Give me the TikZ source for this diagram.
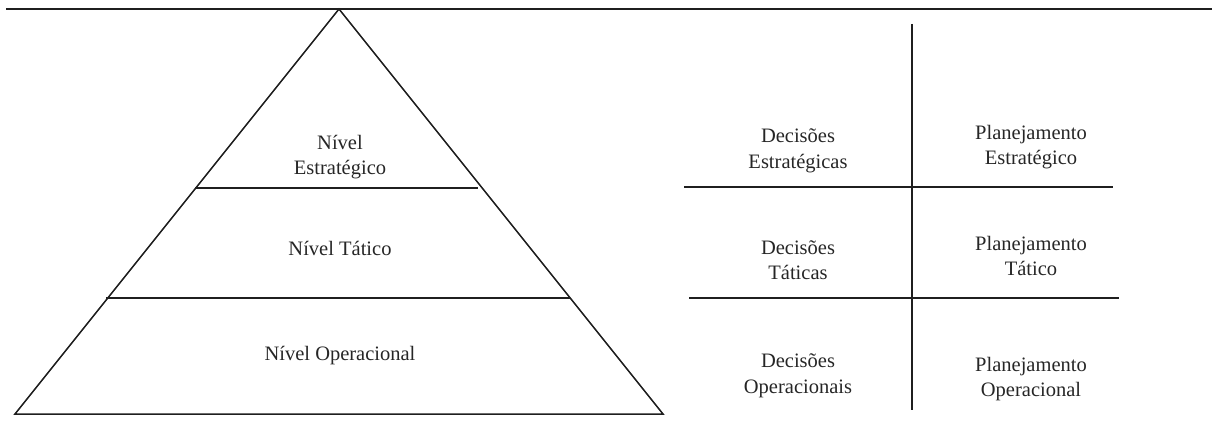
\documentclass[tikz,border=0pt]{standalone}
\usepackage{fontspec}
\setmainfont{Liberation Serif}
\begin{document}
\begin{tikzpicture}[x=1pt,y=-1pt,
  rule/.style={line width=1.5pt,draw=black!88},
  lbl/.style={align=center,inner sep=0pt,text=black!85,
    font=\fontsize{20.5}{25.5}\selectfont}]
\useasboundingbox (0,0) rectangle (1212,428);

% pyramid outline
\coordinate (apex) at (339,9);
\coordinate (bl) at (15,414);
\coordinate (br) at (663,414);
\draw[rule] (6,9) -- (1212,9);
\draw[rule,line join=miter] (apex) -- (br) -- (bl) -- cycle;

% level dividers
\coordinate (s1a) at (195,188);
\coordinate (s1b) at (478,188);
\coordinate (s2a) at (106,298);
\coordinate (s2b) at (570,298);
\draw[rule] (s1a) -- (s1b);
\draw[rule] (s2a) -- (s2b);

% level labels
\node[lbl] (nest) at (340,157) {Nível\\Estratégico};
\node[lbl] (ntat) at (340,248) {Nível Tático};
\node[lbl] (nope) at (340,356) {Nível Operacional};

% decision / planning grid
\coordinate (vt) at (912,24);
\coordinate (vb) at (912,410);
\coordinate (h1a) at (684,187);
\coordinate (h1b) at (1113,187);
\coordinate (h2a) at (689,298);
\coordinate (h2b) at (1119,298);
\draw[rule] (vt) -- (vb);
\draw[rule] (h1a) -- (h1b);
\draw[rule] (h2a) -- (h2b);

\node[lbl] (dest) at (798,151) {Decisões\\Estratégicas};
\node[lbl] (pest) at (1031,147) {Planejamento\\Estratégico};
\node[lbl] (dtat) at (798,260) {Decisões\\Táticas};
\node[lbl] (ptat) at (1031,256) {Planejamento\\Tático};
\node[lbl] (dope) at (798,376) {Decisões\\Operacionais};
\node[lbl] (pope) at (1031,379) {Planejamento\\Operacional};
\end{tikzpicture}
\end{document}
